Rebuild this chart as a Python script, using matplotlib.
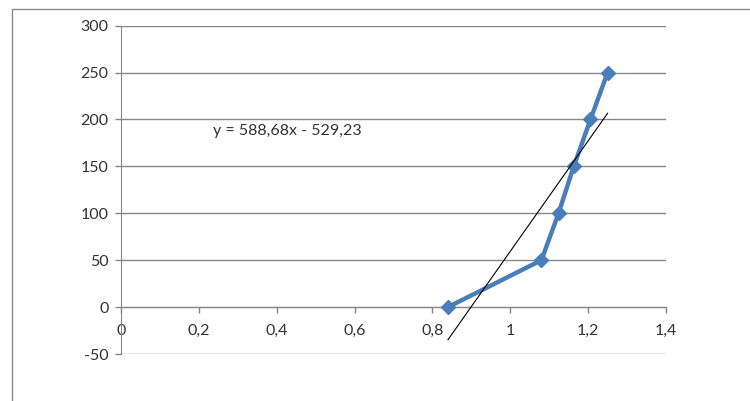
import numpy as np
import matplotlib
matplotlib.use("Agg")
import matplotlib.pyplot as plt
from matplotlib.lines import Line2D
from matplotlib.ticker import FuncFormatter

# measured series
x_vals = [0.84, 1.08, 1.124, 1.163, 1.206, 1.25]
y_vals = [0, 50, 100, 150, 200, 250]

# linear trend (as printed on the chart)
slope = 588.68
intercept = -529.23
eq_label = "y = 588,68x - 529,23"

x_ticks = [0, 0.2, 0.4, 0.6, 0.8, 1.0, 1.2, 1.4]
y_ticks = [-50, 0, 50, 100, 150, 200, 250, 300]

plt.rcParams['font.family'] = ['Lato', 'DejaVu Sans']
plt.rcParams['axes.unicode_minus'] = False

fig = plt.figure(figsize=(7.5, 4.01), dpi=100)
ax = fig.add_axes([0.1613, 0.1172, 0.7267, 0.8188])

grid_c = "#878787"
txt_c = "#333333"
ax.set_xlim(0, 1.4)
ax.set_ylim(-50, 300)
ax.set_yticks(y_ticks)
ax.set_xticks(x_ticks)
ax.yaxis.grid(True, color=grid_c, linewidth=1)
ax.set_axisbelow(True)

for s in ["top", "right"]:
    ax.spines[s].set_visible(False)
ax.spines["left"].set_color(grid_c)
ax.spines["bottom"].set_color(grid_c)
ax.spines["bottom"].set_position(("data", 0))

ax.tick_params(axis="y", direction="out", length=4, width=1, color=grid_c,
               labelsize=11.5, pad=5, labelcolor=txt_c)
ax.tick_params(axis="x", direction="out", length=4, width=1, color=grid_c,
               labelsize=11.5, pad=8, labelcolor=txt_c)

fmt = FuncFormatter(lambda v, p: ("%g" % v).replace(".", ","))
ax.xaxis.set_major_formatter(fmt)

# series line with diamonds
ax.plot(x_vals, y_vals, color="#4a7ebb", linewidth=3.2, marker="D",
        markersize=7, markerfacecolor="#4a7ebb", markeredgecolor="#4a7ebb",
        zorder=3, clip_on=False)

# trendline over the data range
tx = np.array([min(x_vals), max(x_vals)])
ax.plot(tx, slope * tx + intercept, color="black", linewidth=0.8, zorder=4)

ax.text(0.427, 188, eq_label, fontsize=11.5, ha="center", va="center",
        color=txt_c)

# outer chart frame (left and top edges)
fig.add_artist(Line2D([12 / 750, 12 / 750, 1.0], [0.0, 1 - 9 / 401, 1 - 9 / 401],
                      transform=fig.transFigure, color="#8a8a8a", linewidth=1))

fig.savefig("out.png", dpi=100)
